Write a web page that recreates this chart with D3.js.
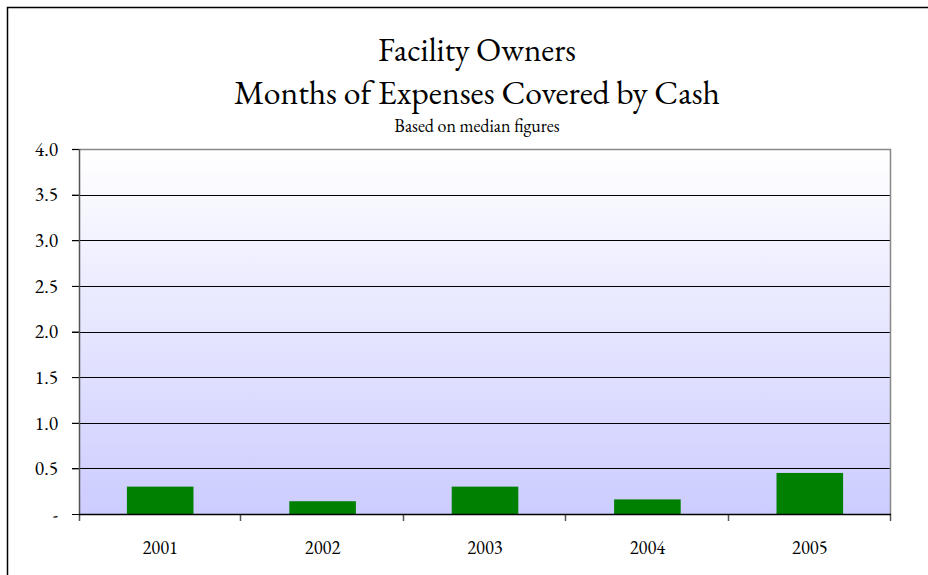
<!DOCTYPE html>
<html>
<head>
<meta charset="utf-8">
<script src="https://cdn.jsdelivr.net/npm/d3@7"></script>
<style>
  body { margin: 0; background: #fff; }
</style>
</head>
<body>
<div id="chart"></div>
<script>
// chart data
const years = ["2001", "2002", "2003", "2004", "2005"];
const months = [0.30, 0.14, 0.30, 0.16, 0.45];
const yTicks = [0, 0.5, 1.0, 1.5, 2.0, 2.5, 3.0, 3.5, 4.0];

const serif = '"EB Garamond"';

const width = 928, height = 575;
const margin = { top: 149, right: 37, bottom: 61, left: 79 };
const plotW = width - margin.left - margin.right;
const plotH = height - margin.top - margin.bottom;

const svg = d3.select("#chart")
  .append("svg")
  .attr("width", width)
  .attr("height", height);

// outer frame (only top and left edges show)
svg.append("rect")
  .attr("x", 7.5).attr("y", 7.5)
  .attr("width", width).attr("height", height)
  .attr("fill", "none")
  .attr("stroke", "#000")
  .attr("stroke-width", 1.5);

// titles
const titles = [
  { text: "Facility Owners", y: 61, size: 33 },
  { text: "Months of Expenses Covered by Cash", y: 104, size: 33.7 },
  { text: "Based on median figures", y: 132, size: 18 }
];
svg.selectAll(".title")
  .data(titles)
  .join("text")
  .attr("x", 477)
  .attr("y", d => d.y)
  .attr("text-anchor", "middle")
  .style("font-family", serif)
  .style("font-size", d => d.size + "px")
  .text(d => d.text);

const defs = svg.append("defs");
const grad = defs.append("linearGradient")
  .attr("id", "bg")
  .attr("x1", 0).attr("y1", 0).attr("x2", 0).attr("y2", 1);
grad.append("stop").attr("offset", "0%").attr("stop-color", "#ffffff");
grad.append("stop").attr("offset", "100%").attr("stop-color", "#ccccff");

const g = svg.append("g")
  .attr("transform", `translate(${margin.left},${margin.top})`);

const x = d3.scaleBand()
  .domain(years)
  .range([0, plotW])
  .paddingInner(0.59)
  .paddingOuter(0.295);

const y = d3.scaleLinear()
  .domain([0, 4])
  .range([plotH, 0]);

// plot background
g.append("rect")
  .attr("width", plotW).attr("height", plotH)
  .attr("fill", "url(#bg)");

// gridlines
g.selectAll(".grid")
  .data(yTicks.filter(d => d > 0 && d < 4))
  .join("line")
  .attr("x1", -7).attr("x2", plotW)
  .attr("y1", d => Math.round(y(d)) + 0.5)
  .attr("y2", d => Math.round(y(d)) + 0.5)
  .attr("stroke", "#000");

// plot border top/right
g.append("path")
  .attr("d", `M-7,0.5H${plotW - 0.5}V${plotH}`)
  .attr("fill", "none")
  .attr("stroke", "#888")
  .attr("stroke-width", 1.5);

// bars
g.selectAll(".bar")
  .data(years)
  .join("rect")
  .attr("x", d => x(d))
  .attr("width", x.bandwidth())
  .attr("y", (d, i) => y(months[i]))
  .attr("height", (d, i) => plotH - y(months[i]))
  .attr("fill", "#008000");

// y axis
const yAxis = d3.axisLeft(y)
  .tickValues(yTicks)
  .tickSize(7)
  .tickPadding(14)
  .tickFormat(d => d === 0 ? "-" : d3.format(".1f")(d));
const ya = g.append("g").call(yAxis);
ya.select(".domain").remove();
ya.selectAll(".tick line").attr("stroke", "#000");
ya.selectAll("text")
  .style("font-family", serif)
  .style("font-size", "19.5px");
g.append("line")
  .attr("x1", 0.5).attr("x2", 0.5)
  .attr("y1", 0).attr("y2", plotH + 7)
  .attr("stroke", "#555")
  .attr("stroke-width", 1.5);

// x axis: ticks sit between the categories
const bounds = years.map(d => x(d) + x.bandwidth() + x.step() * x.paddingOuter());
g.selectAll(".xtick")
  .data(bounds)
  .join("line")
  .attr("x1", d => Math.round(d) - 0.5).attr("x2", d => Math.round(d) - 0.5)
  .attr("y1", plotH).attr("y2", plotH + 7)
  .attr("stroke", "#555")
  .attr("stroke-width", 1.5);
g.append("line")
  .attr("x1", 0).attr("x2", plotW)
  .attr("y1", plotH + 0.5).attr("y2", plotH + 0.5)
  .attr("stroke", "#000")
  .attr("stroke-width", 1.5);

g.selectAll(".xlabel")
  .data(years)
  .join("text")
  .attr("x", d => x(d) + x.bandwidth() / 2)
  .attr("y", plotH + 40)
  .attr("text-anchor", "middle")
  .style("font-family", serif)
  .style("font-size", "18.5px")
  .text(d => d);
</script>
</body>
</html>
